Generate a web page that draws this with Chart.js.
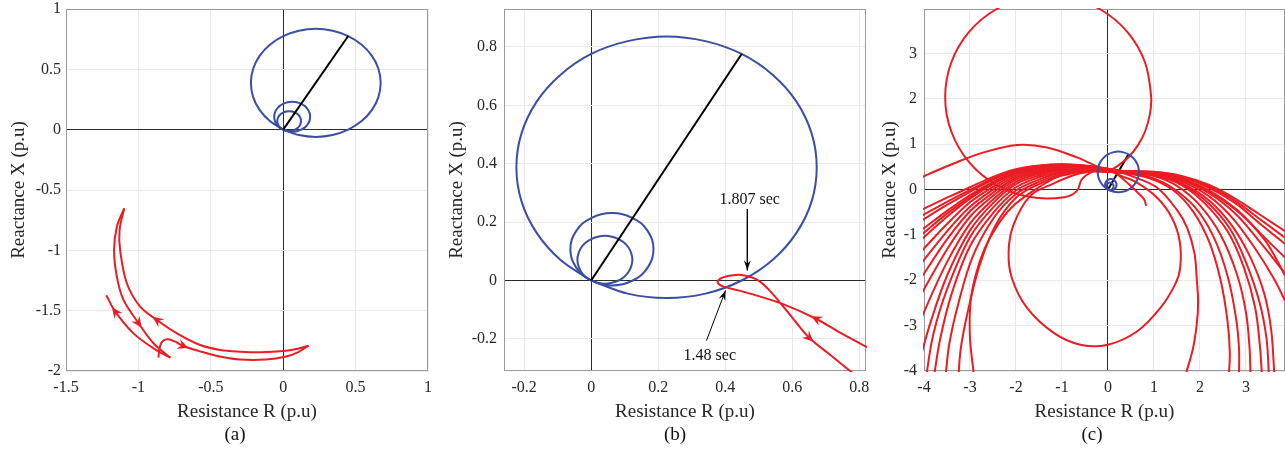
<!DOCTYPE html>
<html>
<head>
<meta charset="utf-8">
<script src="https://cdn.jsdelivr.net/npm/chart.js@4.4.1/dist/chart.umd.min.js"></script>
<style>
  body { margin: 0; background: #fff; width: 1285px; height: 452px; overflow: hidden; position: relative; font-family: "Liberation Serif", "Times New Roman", serif; }
  .panel { position: absolute; top: 0; }
  .panel canvas { display: block; }
  .cap { position: absolute; top: 423px; font-size: 19px; line-height: 22px; color: #111; transform: translateX(-50%); }
</style>
</head>
<body>
<div class="panel" style="left:0"><canvas id="chart-a" width="436" height="452"></canvas></div>
<div class="panel" style="left:430px"><canvas id="chart-b" width="440" height="452"></canvas></div>
<div class="panel" style="left:870px"><canvas id="chart-c" width="415" height="452"></canvas></div>
<div class="cap" style="left:235px">(a)</div>
<div class="cap" style="left:675px">(b)</div>
<div class="cap" style="left:1092px">(c)</div>
<script>
/* ============================================= */
/*                  Data                         */
/* ============================================= */
// mho zones (R, X) in p.u
const zone3 = [[0,0],[0.109,-0.045],[0.225,-0.060],[0.341,-0.045],[0.449,0.000],[0.542,0.071],[0.613,0.164],[0.658,0.272],[0.673,0.388],[0.658,0.503],[0.613,0.612],[0.542,0.704],[0.449,0.776],[0.341,0.820],[0.225,0.836],[0.109,0.820],[0,0.776],[-0.092,0.704],[-0.163,0.612],[-0.208,0.503],[-0.223,0.388],[-0.208,0.272],[-0.163,0.164],[-0.092,0.071],[0,0]];
const zone2 = [[0,0],[0.030,-0.013],[0.062,-0.017],[0.094,-0.013],[0.124,0.000],[0.150,0.019],[0.169,0.045],[0.182,0.075],[0.186,0.107],[0.182,0.139],[0.169,0.169],[0.150,0.195],[0.124,0.214],[0.094,0.227],[0.062,0.231],[0.030,0.227],[0,0.214],[-0.026,0.195],[-0.045,0.169],[-0.058,0.139],[-0.062,0.107],[-0.058,0.075],[-0.045,0.045],[-0.026,0.019],[0,0]];
const zone1 = [[0,0],[0.020,-0.008],[0.041,-0.011],[0.062,-0.008],[0.082,0.000],[0.099,0.013],[0.112,0.030],[0.120,0.050],[0.123,0.071],[0.120,0.092],[0.112,0.112],[0.099,0.129],[0.082,0.142],[0.062,0.150],[0.041,0.153],[0.020,0.150],[0,0.142],[-0.017,0.129],[-0.030,0.112],[-0.038,0.092],[-0.041,0.071],[-0.038,0.050],[-0.030,0.030],[-0.017,0.013],[0,0]];
const lineAngle = [[0,0],[0.449,0.776]];

// (a) impedance trajectory
const trajA1 = [[-0.862,-1.89],[-0.852,-1.80],[-0.83,-1.75],[-0.795,-1.737],[-0.75,-1.755],[-0.69,-1.793],[-0.58,-1.835],[-0.44,-1.88],[-0.297,-1.905],[-0.12,-1.905],[0.02,-1.88],[0.10,-1.845],[0.175,-1.79]];
const trajA2 = [[0.175,-1.79],[0.10,-1.815],[0.0,-1.835],[-0.15,-1.845],[-0.30,-1.84],[-0.435,-1.826],[-0.573,-1.785],[-0.734,-1.688],[-0.872,-1.577],[-0.988,-1.467],[-1.08,-1.273],[-1.126,-1.0],[-1.13,-0.83],[-1.098,-0.652]];
const trajA3 = [[-1.098,-0.652],[-1.149,-0.804],[-1.168,-1.0],[-1.149,-1.218],[-1.103,-1.411],[-0.999,-1.604],[-0.896,-1.77],[-0.78,-1.89]];
const trajA4 = [[-0.78,-1.89],[-0.896,-1.812],[-1.034,-1.688],[-1.16,-1.508],[-1.222,-1.373]];

// (b) impedance trajectory and notes
const trajB = [[0.85,-0.245],[0.740,-0.177],[0.671,-0.131],[0.571,-0.080],[0.492,-0.051],[0.433,-0.032],[0.393,-0.020],[0.377,-0.006],[0.388,0.008],[0.418,0.017],[0.448,0.019],[0.478,0.011],[0.502,-0.002],[0.532,-0.034],[0.571,-0.086],[0.611,-0.143],[0.651,-0.197],[0.710,-0.252],[0.80,-0.335]];
const note1807 = [[0.466,0.245],[0.466,0.035]];
const note148 = [[0.344,-0.206],[0.401,-0.034]];
const noteText = ["1.807 sec", "1.48 sec"];
const noteR = [0.473, 0.354];
const noteX = [0.278, -0.257];

// (c) impedance trajectories
const trajTopLoop = [[0.05,0.42],[0.25,0.55],[0.47,0.74],[0.66,0.99],[0.805,1.274],[0.91,1.65],[0.94,2.04],[0.805,2.806],[0.416,3.48],[-0.18,3.98],[-0.911,4.246],[-1.689,4.246],[-2.42,3.98],[-3.016,3.48],[-3.405,2.806],[-3.54,2.04],[-3.405,1.274],[-3.016,0.60],[-2.42,0.10],[-1.689,-0.166],[-0.95,-0.17],[-0.674,-0.03],[-0.565,0.23],[-0.3,0.40],[0.05,0.42]];
const trajLowLoop = [[0.1,0.42],[0.196,0.34],[0.63,0.155],[1.07,-0.18],[1.39,-0.62],[1.56,-1.14],[1.57,-1.73],[1.46,-2.09],[1.14,-2.61],[0.63,-3.13],[0,-3.42],[-0.6,-3.42],[-1.18,-3.16],[-1.76,-2.61],[-2.09,-1.95],[-2.16,-1.36],[-2.05,-0.77],[-1.69,-0.14],[-1.19,0.13],[-0.7,0.33],[-0.2,0.42],[0.1,0.42]];
const trajArc = [[-4.1,0.24],[-3.986,0.302],[-3.355,0.575],[-2.703,0.819],[-1.978,0.981],[-1.326,0.929],[-0.674,0.708],[-0.2,0.50],[0.1,0.42],[0.6,0.39]];
const trajTail = [[-0.3,0.46],[0.0,0.42],[0.195,0.34],[0.45,0.12],[0.66,-0.08],[0.79,-0.22],[0.83,-0.36]];
const trajDownR = [[-0.3,0.45],[0.1,0.42],[0.5,0.3],[1.065,0.044],[1.5,-0.45],[1.72,-0.84],[1.88,-1.4],[1.93,-1.95],[1.96,-2.5],[1.93,-2.98],[1.85,-3.5],[1.70,-4.05]];
const trajDownL = [[0.1,0.42],[-0.5,0.45],[-1.1,0.28],[-1.7,-0.08],[-2.1,-0.4],[-2.41,-0.8],[-2.68,-1.3],[-2.88,-1.9],[-2.99,-2.5],[-3.0,-3.27],[-2.92,-4.05]];
const bandLeft = [
  [[0.3,0.41],[-0.4,0.52],[-1.0,0.56],[-1.5,0.53],[-2.0,0.45],[-2.5,0.28],[-3.0,0.05],[-3.5,-0.18],[-4.0,-0.42],[-4.2,-0.52]],
  [[0.3,0.41],[-0.4,0.51],[-1.0,0.55],[-1.5,0.52],[-2.0,0.43],[-2.5,0.24],[-3.0,-0.01],[-3.5,-0.27],[-4.0,-0.55],[-4.2,-0.66]],
  [[0.3,0.41],[-0.4,0.51],[-1.0,0.55],[-1.5,0.51],[-2.0,0.42],[-2.5,0.22],[-3.0,-0.05],[-3.5,-0.34],[-4.0,-0.65],[-4.2,-0.78]],
  [[0.3,0.40],[-0.4,0.50],[-1.0,0.54],[-1.5,0.50],[-2.0,0.40],[-2.5,0.17],[-3.0,-0.12],[-3.5,-0.47],[-4.0,-0.85],[-4.2,-1.0]],
  [[0.3,0.40],[-0.4,0.50],[-1.0,0.53],[-1.5,0.49],[-2.0,0.38],[-2.5,0.14],[-3.0,-0.16],[-3.5,-0.53],[-4.0,-0.95],[-4.2,-1.12]],
  [[0.3,0.40],[-0.4,0.50],[-1.0,0.53],[-1.5,0.48],[-2.0,0.37],[-2.5,0.12],[-3.0,-0.20],[-3.5,-0.60],[-4.0,-1.05],[-4.2,-1.25]],
  [[0.3,0.40],[-0.4,0.49],[-1.0,0.52],[-1.5,0.46],[-2.0,0.34],[-2.5,0.06],[-3.0,-0.28],[-3.5,-0.76],[-4.0,-1.30],[-4.2,-1.52]],
  [[0.3,0.39],[-0.4,0.48],[-1.0,0.51],[-1.5,0.44],[-2.0,0.30],[-2.5,0.0],[-3.0,-0.38],[-3.5,-0.92],[-4.0,-1.55],[-4.2,-1.8]],
  [[0.3,0.39],[-0.4,0.47],[-1.0,0.49],[-1.5,0.41],[-2.0,0.26],[-2.5,-0.07],[-3.0,-0.48],[-3.5,-1.10],[-4.0,-1.85],[-4.2,-2.15]],
  [[0.3,0.39],[-0.4,0.46],[-1.0,0.47],[-1.5,0.38],[-2.0,0.22],[-2.5,-0.14],[-3.0,-0.60],[-3.5,-1.32],[-4.0,-2.2],[-4.2,-2.6]],
  [[0.3,0.38],[-0.4,0.45],[-1.0,0.45],[-1.5,0.35],[-2.0,0.17],[-2.5,-0.22],[-3.0,-0.75],[-3.5,-1.6],[-4.0,-2.7],[-4.15,-3.1]],
  [[0.3,0.38],[-0.4,0.44],[-1.0,0.43],[-1.5,0.31],[-2.0,0.12],[-2.5,-0.30],[-3.0,-0.90],[-3.5,-1.9],[-3.85,-2.9],[-4.05,-3.6]],
  [[0.3,0.38],[-0.4,0.43],[-1.0,0.40],[-1.5,0.27],[-2.0,0.05],[-2.5,-0.40],[-3.0,-1.05],[-3.5,-2.2],[-3.8,-3.2],[-3.95,-4.1]],
  [[0.3,0.37],[-0.4,0.42],[-1.0,0.37],[-1.5,0.22],[-2.0,-0.02],[-2.5,-0.52],[-3.0,-1.25],[-3.4,-2.3],[-3.65,-3.3],[-3.78,-4.1]],
  [[0.3,0.37],[-0.4,0.41],[-1.0,0.34],[-1.5,0.17],[-2.0,-0.10],[-2.5,-0.65],[-2.95,-1.5],[-3.25,-2.5],[-3.45,-3.4],[-3.53,-4.1]],
  [[0.3,0.37],[-0.4,0.40],[-1.0,0.31],[-1.5,0.12],[-2.0,-0.18],[-2.45,-0.80],[-2.8,-1.7],[-3.05,-2.7],[-3.2,-3.5],[-3.25,-4.1]],
];
const bandRight = [
  [[-0.3,0.44],[0.3,0.41],[1.0,0.39],[1.6,0.30],[2.2,0.10],[2.8,-0.22],[3.3,-0.55],[3.85,-0.92],[4.0,-1.02]],
  [[-0.3,0.44],[0.3,0.41],[1.0,0.385],[1.6,0.285],[2.2,0.07],[2.8,-0.27],[3.3,-0.65],[3.85,-1.06],[4.0,-1.18]],
  [[-0.3,0.44],[0.3,0.41],[1.0,0.38],[1.6,0.27],[2.2,0.04],[2.8,-0.32],[3.3,-0.75],[3.85,-1.2],[4.0,-1.33]],
  [[-0.3,0.43],[0.3,0.40],[1.0,0.37],[1.6,0.24],[2.2,-0.02],[2.8,-0.44],[3.3,-0.95],[3.85,-1.5],[4.0,-1.65]],
  [[-0.3,0.43],[0.3,0.40],[1.0,0.37],[1.7,0.20],[2.3,-0.10],[2.9,-0.55],[3.4,-1.1],[3.7,-1.6],[3.85,-1.9],[4.0,-2.15]],
  [[-0.3,0.43],[0.3,0.40],[1.0,0.36],[1.6,0.21],[2.2,-0.08],[2.8,-0.56],[3.3,-1.15],[3.85,-1.85],[4.0,-2.05]],
  [[-0.3,0.43],[0.3,0.40],[1.0,0.35],[1.6,0.18],[2.2,-0.15],[2.7,-0.62],[3.2,-1.3],[3.6,-1.95],[3.85,-2.45],[4.0,-2.8]],
  [[-0.3,0.42],[0.3,0.39],[1.0,0.34],[1.6,0.14],[2.2,-0.24],[2.7,-0.80],[3.1,-1.5],[3.4,-2.3],[3.55,-3.1],[3.62,-4.1]],
  [[-0.3,0.42],[0.3,0.39],[1.0,0.33],[1.6,0.12],[2.15,-0.27],[2.65,-0.86],[3.0,-1.6],[3.3,-2.5],[3.45,-3.3],[3.5,-4.1]],
  [[-0.3,0.42],[0.3,0.39],[1.0,0.32],[1.6,0.10],[2.1,-0.30],[2.6,-0.92],[2.95,-1.7],[3.2,-2.6],[3.3,-3.4],[3.35,-4.1]],
  [[-0.3,0.42],[0.3,0.39],[1.0,0.30],[1.5,0.08],[2.0,-0.35],[2.45,-1.0],[2.8,-1.85],[3.0,-2.7],[3.08,-3.5],[3.1,-4.1]],
  [[-0.3,0.41],[0.3,0.38],[0.9,0.28],[1.4,0.04],[1.9,-0.40],[2.3,-1.05],[2.6,-1.9],[2.78,-2.8],[2.85,-3.5],[2.85,-4.1]],
  [[-0.3,0.41],[0.3,0.37],[0.9,0.25],[1.4,0.0],[1.85,-0.48],[2.2,-1.15],[2.45,-2.0],[2.6,-2.9],[2.65,-3.6],[2.63,-4.1]],
];

// axis ticks
const ticksAx = [-1.5, -1, -0.5, 0, 0.5, 1];
const ticksAy = [-2, -1.5, -1, -0.5, 0, 0.5, 1];
const ticksBx = [-0.2, 0, 0.2, 0.4, 0.6, 0.8];
const ticksBy = [-0.2, 0, 0.2, 0.4, 0.6, 0.8];
const ticksCx = [-4, -3, -2, -1, 0, 1, 2, 3];
const ticksCy = [-4, -3, -2, -1, 0, 1, 2, 3];

/* ============================================= */
/*                  Helpers                      */
/* ============================================= */
const RED = "#ec1c24";
const BLUE = "#3a4ea2";
const BLACK = "#000000";
const TEXT = "#262626";
const FONT = "'Liberation Serif', 'Times New Roman', serif";

function series(points, color, extra) {
  return Object.assign({
    data: points.map(([x, y]) => ({ x, y })),
    borderColor: color,
    backgroundColor: color,
    borderWidth: 2,
    pointRadius: 0,
    showLine: true,
    fill: false,
    tension: 0.34,
    clip: 1,
  }, extra || {});
}

const arrowPlugin = {
  id: "arrowHeads",
  afterDatasetsDraw(chart) {
    const { ctx, scales: { x, y } } = chart;
    chart.data.datasets.forEach((ds) => {
      if (!ds.arrows) return;
      const pts = ds.data.map((p) => [x.getPixelForValue(p.x), y.getPixelForValue(p.y)]);
      ds.arrows.forEach((i) => {
        const last = i === pts.length - 1;
        const a = pts[Math.max(i - 1, 0)];
        const b = pts[Math.min(i + 1, pts.length - 1)];
        const ang = Math.atan2(b[1] - a[1], b[0] - a[0]);
        const len = ds.arrowLen || 9;
        const half = ds.arrowHalf || 4;
        ctx.save();
        ctx.translate(pts[i][0], pts[i][1]);
        ctx.rotate(ang);
        if (!last) ctx.translate(len / 2, 0);
        ctx.beginPath();
        ctx.moveTo(0, 0);
        ctx.lineTo(-len, -half);
        ctx.lineTo(-len * 0.65, 0);
        ctx.lineTo(-len, half);
        ctx.closePath();
        ctx.fillStyle = ds.borderColor;
        ctx.fill();
        ctx.restore();
      });
    });
  },
};

const boxPlugin = {
  id: "axesBox",
  beforeDatasetsDraw(chart) {
    const { ctx, chartArea: { left, top, right, bottom } } = chart;
    ctx.save();
    ctx.strokeStyle = "#9a9a9a";
    ctx.lineWidth = 1;
    ctx.strokeRect(left + 0.5, top + 0.5, right - left - 1, bottom - top - 1);
    ctx.restore();
  },
};

const notePlugin = {
  id: "notes",
  afterDatasetsDraw(chart, args, opts) {
    if (!opts.text) return;
    const { ctx, scales: { x, y } } = chart;
    ctx.save();
    ctx.font = "16px " + FONT;
    ctx.fillStyle = "#111";
    ctx.textAlign = "center";
    ctx.textBaseline = "middle";
    opts.text.forEach((t, i) => {
      ctx.fillText(t, x.getPixelForValue(opts.r[i]), y.getPixelForValue(opts.x[i]));
    });
    ctx.restore();
  },
};

function gridColor(c) {
  return c.tick && c.tick.value === 0 ? "#2b2b2b" : "#e9e9e9";
}

function makeChart(id, cfg) {
  return new Chart(document.getElementById(id), {
    type: "scatter",
    data: { datasets: cfg.datasets },
    plugins: [boxPlugin, arrowPlugin, notePlugin],
    options: {
      responsive: false,
      animation: false,
      events: [],
      layout: { padding: { top: 9, right: cfg.padRight, left: 0, bottom: 0 } },
      elements: { line: { capBezierPoints: false } },
      plugins: {
        legend: { display: false },
        tooltip: { enabled: false },
        notes: cfg.notes || {},
      },
      scales: {
        x: {
          type: "linear",
          min: cfg.xMin,
          max: cfg.xMax,
          afterBuildTicks: (s) => { s.ticks = cfg.xTicks.map((v) => ({ value: v })); },
          afterFit: (s) => { s.height = 81; s.paddingLeft = 0; s.paddingRight = 0; },
          grid: { color: gridColor, drawTicks: false },
          border: { display: false },
          ticks: { padding: 7, color: TEXT, autoSkip: false, maxRotation: 0, font: { family: FONT, size: 16 }, callback: (v) => String(v) },
          title: { display: true, text: "Resistance R (p.u)", color: TEXT, font: { family: FONT, size: 19 }, padding: { top: 0, bottom: 29 } },
        },
        y: {
          type: "linear",
          min: cfg.yMin,
          max: cfg.yMax,
          afterBuildTicks: (s) => { s.ticks = cfg.yTicks.map((v) => ({ value: v })); },
          afterFit: (s) => { s.width = cfg.yWidth; s.paddingTop = 0; s.paddingBottom = 0; },
          grid: { color: gridColor, drawTicks: false },
          border: { display: false },
          ticks: { padding: cfg.yTickPad, color: TEXT, autoSkip: false, font: { family: FONT, size: 16 }, callback: (v) => String(v) },
          title: { display: true, text: "Reactance X (p.u)", color: TEXT, font: { family: FONT, size: 19 }, padding: { top: cfg.yTitlePad, bottom: 0 } },
        },
      },
    },
  });
}

/* ============================================= */
/*                  Chart (a)                    */
/* ============================================= */
makeChart("chart-a", {
  xMin: -1.5, xMax: 1, yMin: -2, yMax: 1,
  xTicks: ticksAx, yTicks: ticksAy,
  yWidth: 66, yTickPad: 5, yTitlePad: 8, padRight: 8,
  datasets: [
    series(trajA1, RED, { arrows: [5], arrowLen: 11, arrowHalf: 5 }),
    series(trajA2, RED, { arrows: [8], arrowLen: 11, arrowHalf: 5 }),
    series(trajA3, RED, { arrows: [5], arrowLen: 11, arrowHalf: 5 }),
    series(trajA4, RED, { arrows: [3], arrowLen: 11, arrowHalf: 5 }),
    series(lineAngle, BLACK, { tension: 0 }),
    series(zone3, BLUE),
    series(zone2, BLUE),
    series(zone1, BLUE),
  ],
});

/* ============================================= */
/*                  Chart (b)                    */
/* ============================================= */
makeChart("chart-b", {
  xMin: -0.26, xMax: 0.82, yMin: -0.31, yMax: 0.93,
  xTicks: ticksBx, yTicks: ticksBy,
  yWidth: 74, yTickPad: 7, yTitlePad: 16, padRight: 4,
  notes: { text: noteText, r: noteR, x: noteX },
  datasets: [
    series(note1807, BLACK, { tension: 0, borderWidth: 1, arrows: [1], arrowLen: 10, arrowHalf: 3.5 }),
    series(note148, BLACK, { tension: 0, borderWidth: 1, arrows: [1], arrowLen: 10, arrowHalf: 3.5 }),
    series(trajB, RED, { tension: 0.3, arrows: [2, 16], arrowLen: 11, arrowHalf: 5 }),
    series(lineAngle, BLACK, { tension: 0 }),
    series(zone3, BLUE),
    series(zone2, BLUE),
    series(zone1, BLUE),
  ],
});

/* ============================================= */
/*                  Chart (c)                    */
/* ============================================= */
makeChart("chart-c", {
  xMin: -4, xMax: 3.85, yMin: -4, yMax: 3.98,
  xTicks: ticksCx, yTicks: ticksCy,
  yWidth: 54, yTickPad: 7, yTitlePad: 9, padRight: 0,
  datasets: [
    series(zone3, BLUE),
    series(zone2, BLUE),
    series(zone1, BLUE),
    series(trajTopLoop, RED),
    series(trajLowLoop, RED),
    series(trajArc, RED),
    series(trajTail, RED),
    series(trajDownR, RED),
    series(trajDownL, RED),
    ...bandLeft.map((c) => series(c, RED)),
    ...bandRight.map((c) => series(c, RED)),
    series(lineAngle, BLACK, { tension: 0 }),
  ],
});
</script>
</body>
</html>
